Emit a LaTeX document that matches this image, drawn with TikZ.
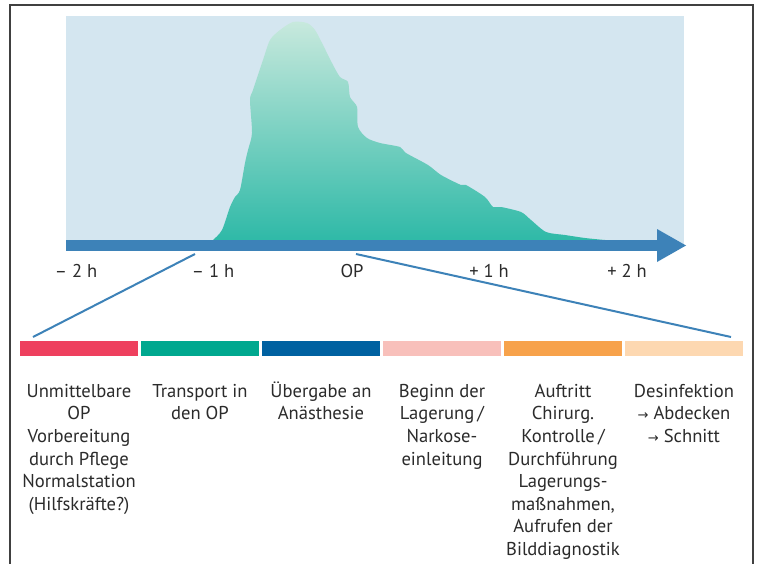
\documentclass[tikz,border=0pt]{standalone}
\usepackage{fontspec}
\setmainfont{PT Sans}
\newfontfamily\symfont{DejaVu Sans}
\definecolor{bgblue}{HTML}{D4E6F0}
\definecolor{axisblue}{HTML}{3D82B8}
\definecolor{ctop}{HTML}{C8E9DD}
\definecolor{cmid}{HTML}{A6DAD0}
\definecolor{cbot}{HTML}{2EB9A7}
\definecolor{cA}{HTML}{EE405E}
\definecolor{cB}{HTML}{00A88F}
\definecolor{cC}{HTML}{0061A1}
\definecolor{cD}{HTML}{F8C0BB}
\definecolor{cE}{HTML}{F7A24B}
\definecolor{cF}{HTML}{FDD8B1}
\definecolor{txt}{HTML}{2B2B2B}
\newcommand{\arr}{{\symfont\fontsize{13}{13}\selectfont →}}
\newcommand{\firstline}{\rule{0pt}{17.5pt}}
\begin{document}
\begin{tikzpicture}[x=1pt,y=-1pt,
  frame/.style={draw=black!75, line width=1.4pt},
  bar/.style={inner sep=0pt, minimum width=118pt, minimum height=15pt, draw=none},
  tick/.style={anchor=base, inner sep=0pt, text=txt, font=\fontsize{18.5}{20}\selectfont},
  desc/.style={anchor=north, inner sep=0pt, align=center, text=txt, font=\fontsize{18.6}{22.6}\selectfont},
  conn/.style={draw=axisblue, line width=2pt}]
\useasboundingbox (0,0) rectangle (757,564);
\fill[white] (0,0) rectangle (757,564);
\draw[frame] (10,564) -- (10,5) -- (753,5) -- (753,564);
\fill[bgblue] (66,16) rectangle (684,245);
\shade[top color=ctop, middle color=cmid, bottom color=cbot, draw=none]
  plot[smooth, tension=0.45] coordinates {(210,241) (213,240) (222,230) (230,207) (235,197) (240,190) (245,163) (248,150) (252,133) (250,100) (253,90) (263,60) (270,40) (280,30) (293,22) (307,23) (315,30) (322,43) (332,63) (340,77) (348,82) (350,97) (357,107) (358,127) (367,138) (380,143) (400,147) (406,153) (428,165) (441,175) (461,185) (466,185) (485,197) (493,207) (501,207) (521,212) (531,220) (546,232) (565,235) (585,238) (605,240) (620,241)} -- cycle;
\fill[axisblue] (66,240) rectangle (657,251);
\fill[axisblue] (657,229) -- (686,245.5) -- (657,262) -- cycle;
\node[tick] (tm2) at (76,277) {– 2 h};
\node[tick] (tm1) at (213,277) {– 1 h};
\node[tick] (top) at (352,277) {OP};
\node[tick] (tp1) at (489,277) {+ 1 h};
\node[tick] (tp2) at (627,277) {+ 2 h};
\coordinate (m1) at (195,254);
\coordinate (mop) at (356,254);
\node[bar, fill=cA] (b1) at (79,348.5) {};
\node[bar, fill=cB] (b2) at (200,348.5) {};
\node[bar, fill=cC] (b3) at (321,348.5) {};
\node[bar, fill=cD] (b4) at (442,348.5) {};
\node[bar, fill=cE] (b5) at (563,348.5) {};
\node[bar, fill=cF] (b6) at (684,348.5) {};
\coordinate (e1) at (33,337);
\coordinate (e6) at (731,337);
\draw[conn] (m1) -- (e1);
\draw[conn] (mop) -- (e6);
\node[desc] (t1) at (79,379.5) {\firstline Unmittelbare\\OP\\Vorbereitung\\durch Pflege\\Normalstation\\(Hilfskräfte?)};
\node[desc] (t2) at (200,379.5) {\firstline Transport in\\den OP};
\node[desc] (t3) at (321,379.5) {\firstline Übergabe an\\Anästhesie};
\node[desc] (t4) at (442,379.5) {\firstline Beginn der\\Lagerung\,/\\Narkose-\\einleitung};
\node[desc] (t5) at (563,379.5) {\firstline Auftritt\\Chirurg.\\Kontrolle\,/\\Durchführung\\Lagerungs-\\maßnahmen,\\Aufrufen der\\Bilddiagnostik};
\node[desc] (t6) at (684,379.5) {\firstline Desinfektion\\\arr{} Abdecken\\\arr{} Schnitt};
\end{tikzpicture}
\end{document}
